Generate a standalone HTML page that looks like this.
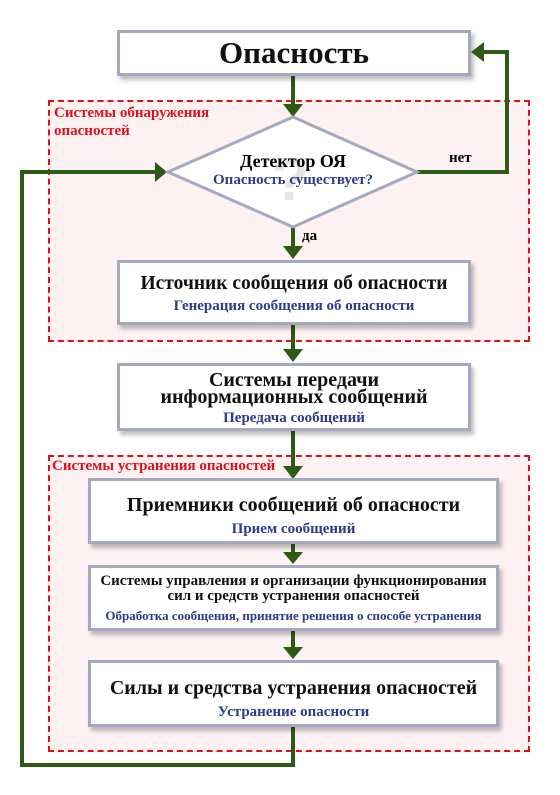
<!DOCTYPE html>
<html><head><meta charset="utf-8"><style>
body{margin:0;background:#fff;}
.w{position:relative;width:560px;height:795px;overflow:hidden;font-family:"Liberation Serif","Noto Serif CJK SC",serif;}
.r{position:absolute;border:2px dashed #e0101a;background:#fdf1f1;}
.b{position:absolute;background:#fff;border:3px solid #a3aac0;box-shadow:3px 4px 4px rgba(0,0,0,.25);text-align:center;font-weight:bold;color:#111;box-sizing:border-box;white-space:nowrap;}
.s{color:#2b3c8c;font-size:15px;}
.lab{position:absolute;color:#e0101a;font-weight:bold;font-size:15px;line-height:18px;}
svg{position:absolute;left:0;top:0;}
</style></head><body><div class="w">
<div class="r" style="left:48px;top:100px;width:478px;height:238px"></div>
<div class="r" style="left:48px;top:455px;width:478px;height:293px"></div>
<div class="lab" style="left:54px;top:104px">Системы обнаружения<br>опасностей</div>
<div class="lab" style="left:52px;top:457px">Системы устранения опасностей</div>
<svg width="560" height="795">
<g stroke="#2d5a14" stroke-width="4" fill="none">
<line x1="293" y1="75" x2="293" y2="106"/>
<polyline points="417,172 507,172 507,52 482,52"/>
<line x1="293" y1="225" x2="293" y2="246"/>
<line x1="293" y1="323" x2="293" y2="350"/>
<line x1="293" y1="430" x2="293" y2="467"/>
<line x1="293" y1="543" x2="293" y2="553"/>
<line x1="293" y1="630" x2="293" y2="648"/>
<polyline points="293,725 293,765 22,765 22,172 155,172"/>
</g>
<g fill="#2d5a14">
<polygon points="283,104 303,104 293,117"/>
<polygon points="283,246 303,246 293,259"/>
<polygon points="283,349 303,349 293,362"/>
<polygon points="283,466 303,466 293,479"/>
<polygon points="283,552 303,552 293,564"/>
<polygon points="283,647 303,647 293,659"/>
<polygon points="155,162 155,182 167,172"/>
</g>
<polygon points="293,117 417,172 293,227 168,172" fill="#fff" stroke="#a3aac0" stroke-width="3"/>
<text x="272" y="200" font-size="60" font-family="Liberation Sans" font-weight="bold" fill="#e6e6ea">?</text>
<text x="293" y="167" text-anchor="middle" font-size="18" font-weight="bold" font-family="Liberation Serif">Детектор ОЯ</text>
<text x="293" y="184" text-anchor="middle" font-size="15" font-weight="bold" fill="#2b3c8c" font-family="Liberation Serif">Опасность существует?</text>
<text x="449" y="162" font-size="15" font-weight="bold" font-family="Liberation Serif">нет</text>
<text x="302" y="240" font-size="15" font-weight="bold" font-family="Liberation Serif">да</text>
</svg>
<div class="b" style="left:117px;top:30px;width:354px;height:46px;font-size:31px;line-height:40px">Опасность</div>
<div class="b" style="left:117px;top:260px;width:354px;height:65px;font-size:19.5px;line-height:22px;padding-top:10px">Источник сообщения об опасности<div class="s">Генерация сообщения об опасности</div></div>
<div class="b" style="left:117px;top:363px;width:354px;height:68px;font-size:20px;line-height:17px;padding-top:6px">Системы передачи<br>информационных сообщений<div class="s" style="margin-top:4px">Передача сообщений</div></div>
<div class="b" style="left:88px;top:478px;width:411px;height:66px;font-size:20px;line-height:24px;padding-top:12px">Приемники сообщений об опасности<div class="s">Прием сообщений</div></div>
<div class="b" style="left:88px;top:565px;width:411px;height:66px;font-size:15px;line-height:15px;padding-top:6px">Системы управления и организации функционирования<br>сил и средств устранения опасностей<div class="s" style="font-size:13px;margin-top:4px">Обработка сообщения, принятие решения о способе устранения</div></div>
<div class="b" style="left:88px;top:660px;width:411px;height:67px;font-size:20px;line-height:24px;padding-top:13px">Силы и средства устранения опасностей<div class="s">Устранение опасности</div></div>
<svg width="560" height="795" style="pointer-events:none"><polygon points="484,42 484,62 471,52" fill="#2d5a14"/></svg>
</div></body></html>
